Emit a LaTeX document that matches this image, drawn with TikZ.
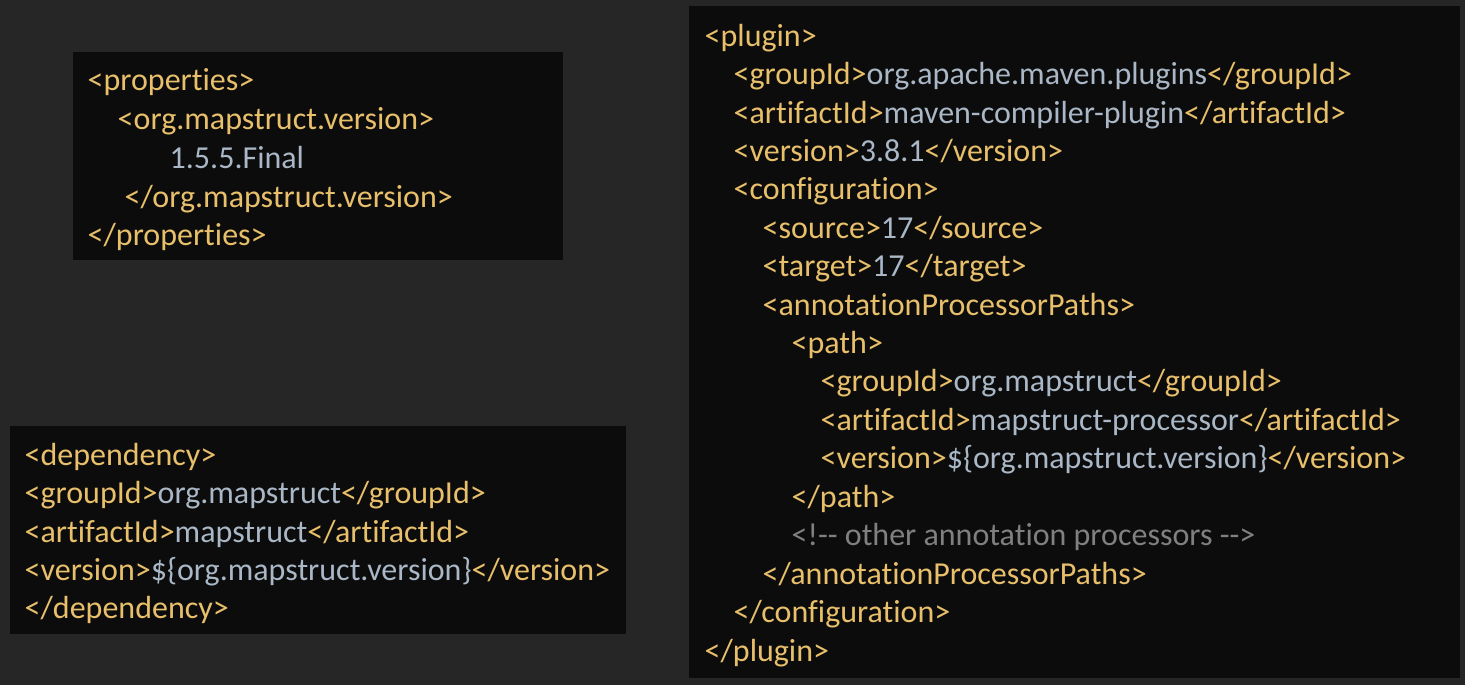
\documentclass[tikz,border=0pt]{standalone}
\usepackage{fontspec}
\setmainfont{Carlito}[Ligatures={NoCommon}]
\definecolor{bgcol}{HTML}{262626}
\definecolor{boxcol}{HTML}{0C0C0C}
\definecolor{tagcol}{HTML}{E8BF6A}
\definecolor{valcol}{HTML}{A9B7C6}
\definecolor{remcol}{HTML}{808080}
\newcommand\val[1]{\textcolor{valcol}{#1}}
\tikzset{
  codeline/.style={anchor=base west, inner sep=0pt, text=tagcol,
                   font=\fontsize{9.1}{11}\selectfont},
}
\begin{document}
\begin{tikzpicture}  % ------ extraits pom.xml : mapstruct -------
      [x=0.01cm,y=-0.01cm]
    \fill[bgcol] (0,0) rectangle (1465,685);
    \useasboundingbox (0,0) rectangle (1465,685);

    \coordinate (P1) at (73,52);   \coordinate (P2) at (563,260);    % properties
    \coordinate (D1) at (10,426);  \coordinate (D2) at (626,634);    % dependency
    \coordinate (G1) at (689,6);   \coordinate (G2) at (1460,678);   % plugin
    \fill[boxcol] (P1) rectangle (P2);
    \fill[boxcol] (D1) rectangle (D2);
    \fill[boxcol] (G1) rectangle (G2);

    % properties
    \node[codeline] (p1) at (87,91)  {<properties>};
    \node[codeline] (p2) at (117,130) {<org.mapstruct.version>};
    \node[codeline] (p3) at (169,169) {\val{1.5.5.Final}};
    \node[codeline] (p4) at (124,208) {</org.mapstruct.version>};
    \node[codeline] (p5) at (87,246) {</properties>};

    % dependency
    \node[codeline] (d1) at (24,466) {<dependency>};
    \node[codeline] (d2) at (24,504) {<groupId>\val{org.mapstruct}</groupId>};
    \node[codeline] (d3) at (24,543) {<artifactId>\val{mapstruct}</artifactId>};
    \node[codeline] (d4) at (24,581) {<version>\val{\$\{org.mapstruct.version\}}</version>};
    \node[codeline] (d5) at (24,619) {</dependency>};

    % plugin
    \node[codeline] (g1)  at (704,47)  {<plugin>};
    \node[codeline] (g2)  at (733,85)  {<groupId>\val{org.apache.maven.plugins}</groupId>};
    \node[codeline] (g3)  at (733,124) {<artifactId>\val{maven-compiler-plugin}</artifactId>};
    \node[codeline] (g4)  at (733,162) {<version>\val{3.8.1}</version>};
    \node[codeline] (g5)  at (733,200) {<configuration>};
    \node[codeline] (g6)  at (762,239) {<source>\val{17}</source>};
    \node[codeline] (g7)  at (762,277) {<target>\val{17}</target>};
    \node[codeline] (g8)  at (762,316) {<annotationProcessorPaths>};
    \node[codeline] (g9)  at (791,354) {<path>};
    \node[codeline] (g10) at (820,392) {<groupId>\val{org.mapstruct}</groupId>};
    \node[codeline] (g11) at (820,431) {<artifactId>\val{mapstruct-processor}</artifactId>};
    \node[codeline] (g12) at (820,469) {<version>\val{\$\{org.mapstruct.version\}}</version>};
    \node[codeline] (g13) at (791,508) {</path>};
    \node[codeline] (g14) at (791,546) {\textcolor{remcol}{<!-\kern0pt- other annotation processors -\kern0pt->}};
    \node[codeline] (g15) at (762,585) {</annotationProcessorPaths>};
    \node[codeline] (g16) at (733,623) {</configuration>};
    \node[codeline] (g17) at (704,662) {</plugin>};
\end{tikzpicture}
\end{document}
